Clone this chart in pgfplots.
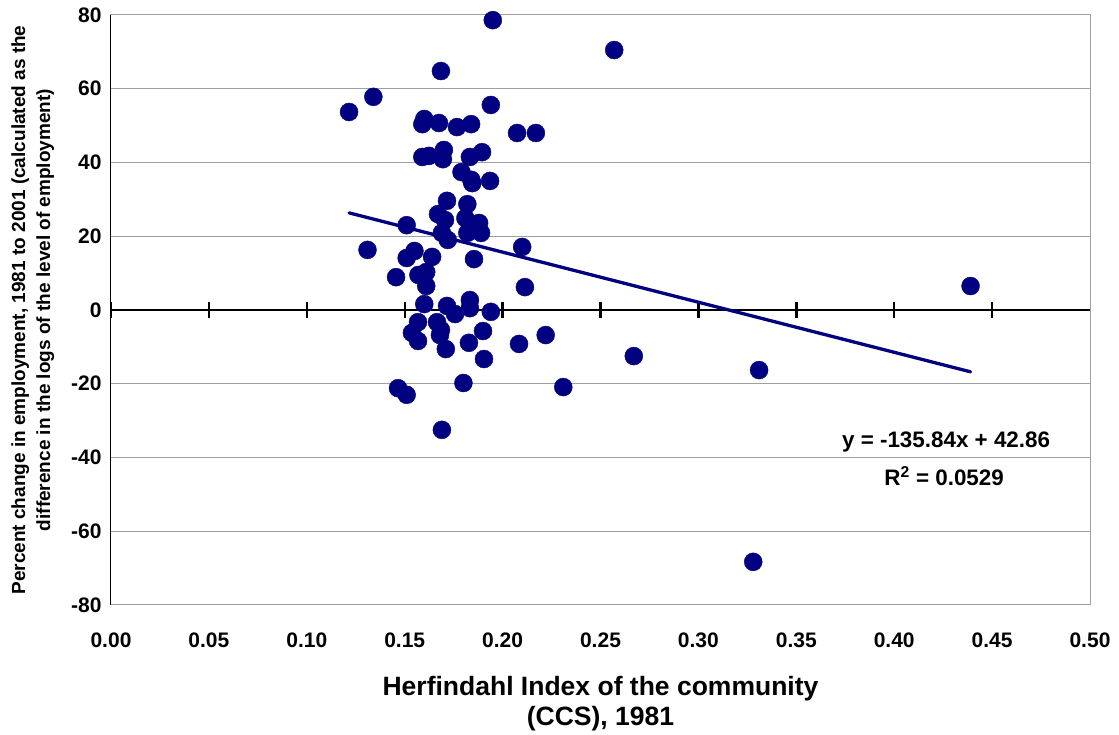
\documentclass[border=0pt]{standalone}
\usepackage{pgfplots}
\pgfplotsset{compat=1.18}
\usepackage{fontspec}
\setmainfont{Liberation Sans}
\definecolor{navy}{RGB}{0,0,128}
\definecolor{gridgray}{RGB}{160,160,160}

\begin{document}
\begin{tikzpicture}
\begin{axis}[
  scale only axis,
  width=979pt, height=590pt,
  xmin=0, xmax=0.5, ymin=-80, ymax=80,
  xtick={0,0.05,...,0.5},
  ytick={-80,-60,...,80},
  major tick length=0pt,
  ymajorgrids,
  grid style={gridgray, line width=1pt},
  axis line style={gridgray, line width=1pt},
  /pgf/number format/assume math mode=true,
  xticklabel={\pgfmathprintnumber[fixed, fixed zerofill, precision=2]{\tick}},
  yticklabel={\pgfmathprintnumber[fixed]{\tick}},
  tick label style={font=\fontsize{21}{24}\selectfont\bfseries},
  xticklabel style={yshift=-24pt},
  yticklabel style={xshift=-6pt},
  xlabel={Herfindahl Index of the community\\(CCS), 1981},
  xlabel style={align=center, font=\fontsize{26.5}{30}\selectfont\bfseries, yshift=-22pt},
  ylabel={Percent change in employment, 1981 to 2001 (calculated as the\\difference in the logs of the level of employment)},
  ylabel style={align=center, font=\fontsize{19}{25}\selectfont\bfseries, yshift=10pt},
  clip=false,
]
% zero line with crossing ticks
\addplot[black, line width=2.6pt, forget plot] coordinates {(0,0) (0.5,0)};
\foreach \t in {0,0.05,...,0.5} {
  \edef\temp{\noexpand\draw[black, line width=2.4pt] (axis cs:\t,-2.2) -- (axis cs:\t,2.2);}
  \temp
}
% scatter of communities
\addplot[only marks, mark=*, mark size=9pt, mark options={draw=navy, fill=navy}] coordinates {
(0.195,78.6) (0.257,70.5) (0.1685,64.8) (0.134,57.8) (0.1216,53.7)
(0.194,55.6) (0.160,51.8) (0.159,50.4) (0.1675,50.7) (0.1767,49.6)
(0.1839,50.4) (0.2074,48.0) (0.217,48.0) (0.159,41.5) (0.1624,41.8)
(0.170,43.4) (0.1695,40.9) (0.1833,41.5) (0.1895,42.8) (0.179,37.4)
(0.184,35.3) (0.1845,34.4) (0.1936,35.0) (0.1716,29.6) (0.182,28.7)
(0.167,26.0) (0.1706,24.4) (0.181,24.9) (0.188,23.6) (0.151,23.0)
(0.169,20.9) (0.172,19.0) (0.182,20.9) (0.189,20.9) (0.210,17.1)
(0.131,16.3) (0.155,16.0) (0.151,14.1) (0.164,14.4) (0.1854,13.8)
(0.161,10.3) (0.157,9.5) (0.1456,8.9) (0.161,6.5) (0.2114,6.2)
(0.160,1.6) (0.1716,1.1) (0.1833,2.7) (0.1833,0.5) (0.1757,-1.1)
(0.194,-0.5) (0.1568,-3.3) (0.1665,-3.3) (0.1685,-5.4) (0.168,-6.8)
(0.1537,-6.2) (0.1568,-8.4) (0.190,-5.7) (0.1828,-8.9) (0.222,-6.8)
(0.2084,-9.2) (0.171,-10.6) (0.1905,-13.3) (0.180,-19.8) (0.1466,-21.2)
(0.151,-23.0) (0.231,-20.9) (0.169,-32.5) (0.267,-12.5) (0.331,-16.3)
(0.328,-68.3) (0.439,6.5)
};
% linear trend: y = -135.84x + 42.86
\addplot[navy, line width=3.3pt, line cap=round] coordinates {(0.1216,26.34) (0.439,-16.77)};
\draw[black, line width=1pt] (axis cs:0,-80) -- (axis cs:0,80);
\node[font=\fontsize{22.4}{24}\selectfont\bfseries] at (axis cs:0.4265,-35.8) {y = -135.84x + 42.86};
\node[font=\fontsize{22.4}{24}\selectfont\bfseries] at (axis cs:0.4255,-45.0) {R\textsuperscript{2} = 0.0529};
% margins around the plot area
\path (rel axis cs:0,0) ++(-111pt,-127pt) (rel axis cs:1,1) ++(29pt,15pt);
\end{axis}
\end{tikzpicture}
\end{document}
